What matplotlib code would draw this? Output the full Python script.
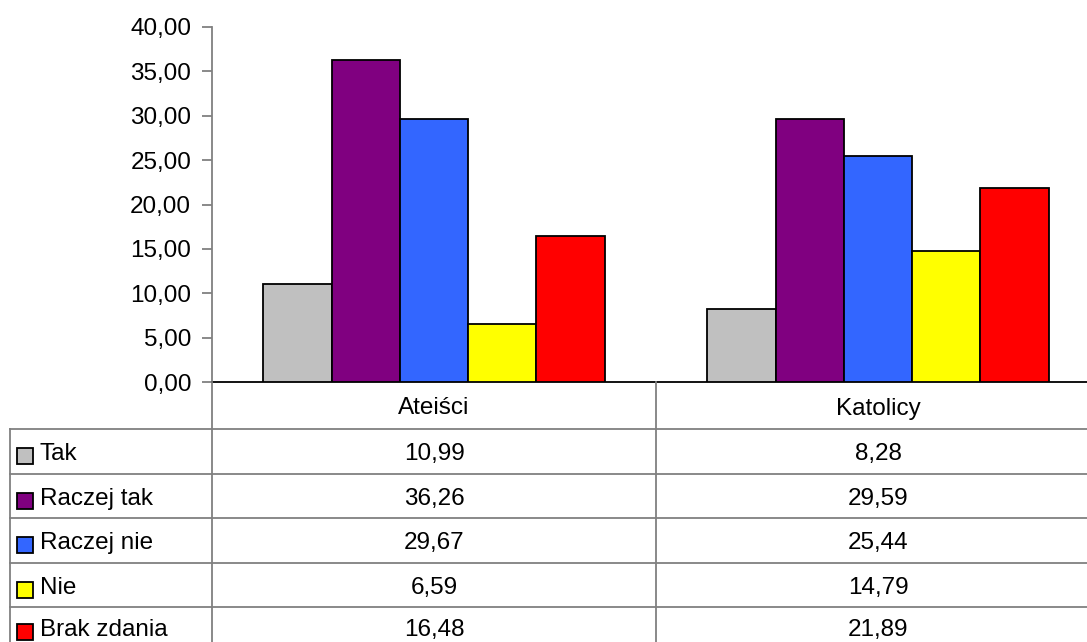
import matplotlib
matplotlib.use("Agg")
import matplotlib.pyplot as plt
from matplotlib.patches import Rectangle
import numpy as np

plt.rcParams['font.family'] = ['Liberation Sans', 'DejaVu Sans']

categories = ["Ateiści", "Katolicy"]
series_names = ["Tak", "Raczej tak", "Raczej nie", "Nie", "Brak zdania"]
tak = [10.99, 8.28]
raczej_tak = [36.26, 29.59]
raczej_nie = [29.67, 25.44]
nie = [6.59, 14.79]
brak_zdania = [16.48, 21.89]
colors = ["#C0C0C0", "#800080", "#3366FF", "#FFFF00", "#FF0000"]
yticks = [0, 5, 10, 15, 20, 25, 30, 35, 40]

series = [tak, raczej_tak, raczej_nie, nie, brak_zdania]

FS = 17.5
W, H = 1087, 642
fig = plt.figure(figsize=(W / 100, H / 100), dpi=100)

# plot area in pixel coords
ax_left, ax_right, ax_top, ax_bottom = 212, 1100, 27, 382
ax = fig.add_axes([ax_left / W, (H - ax_bottom) / H,
                   (ax_right - ax_left) / W, (ax_bottom - ax_top) / H])

n = len(series)
bw = 1.0 / (n + 1.5)
x = np.arange(len(categories))
for i, (vals, c) in enumerate(zip(series, colors)):
    offs = (i - (n - 1) / 2) * bw
    ax.bar(x + offs, vals, width=bw, color=c, edgecolor="black", linewidth=1.3, zorder=3)

ax.set_xlim(-0.5, len(categories) - 0.5)
ax.set_ylim(0, 40)
ax.set_yticks(yticks)
ax.set_yticklabels([f"{v:.2f}".replace(".", ",") for v in yticks], fontsize=FS)
ax.set_xticks([])
for s in ["top", "right"]:
    ax.spines[s].set_visible(False)
ax.spines["left"].set_color("#808080")
ax.spines["left"].set_linewidth(1.3)
ax.spines["bottom"].set_color("black")
ax.spines["bottom"].set_linewidth(1.3)
ax.tick_params(axis="y", direction="out", length=7, width=1.3, color="#808080", pad=8)
ax.patch.set_alpha(0)

# data table overlay in pixel coordinates
tb = fig.add_axes([0, 0, 1, 1])
tb.set_xlim(0, W)
tb.set_ylim(H, 0)
tb.axis("off")
tb.patch.set_alpha(0)

line_c = "#808080"
lw = 1.3
row_top = 429
row_h = 44.5
header_mid = (ax_bottom + row_top) / 2
col_w = (ax_right - ax_left) / len(categories)
col_centers = [ax_left + col_w * (j + 0.5) for j in range(len(categories))]

# vertical lines
tb.plot([ax_left, ax_left], [ax_bottom, H], color=line_c, lw=lw)
for j in range(1, len(categories)):
    xv = ax_left + col_w * j
    tb.plot([xv, xv], [ax_bottom, H], color=line_c, lw=lw)
tb.plot([10, 10], [row_top, H], color=line_c, lw=lw)
# horizontal lines
for r in range(n):
    yv = row_top + r * row_h
    tb.plot([10, W], [yv, yv], color=line_c, lw=lw)

# header
for cx, cat in zip(col_centers, categories):
    tb.text(cx, header_mid + 3, cat, ha="center", va="center", fontsize=FS)

# rows
for r, (name, vals, c) in enumerate(zip(series_names, series, colors)):
    yc = row_top + (r + 0.5) * row_h + (3 if r < n - 1 else 1)
    tb.add_patch(Rectangle((17, yc - 6), 16, 16, facecolor=c, edgecolor="black", lw=1.3))
    tb.text(40, yc, name, ha="left", va="center", fontsize=FS)
    for cx, v in zip(col_centers, vals):
        tb.text(cx, yc, f"{v:.2f}".replace(".", ","), ha="center", va="center", fontsize=FS)

fig.savefig("out.png", dpi=100)
